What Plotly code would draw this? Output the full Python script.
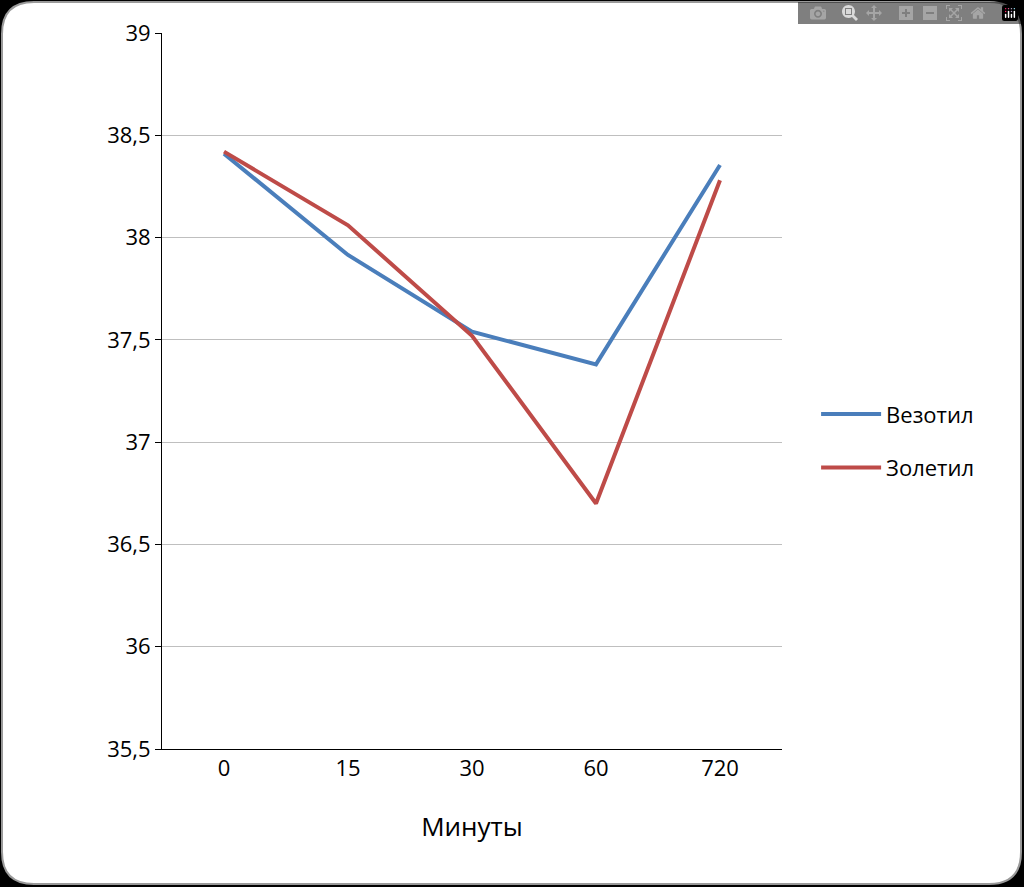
import plotly.graph_objects as go

minutes = ["0", "15", "30", "60", "720"]
vezotil = [38.41, 37.915, 37.54, 37.38, 38.355]
zoletil = [38.42, 38.06, 37.52, 36.70, 38.28]

W, H = 1024, 887
L, R, T, B = 162, 782, 33, 749

def px(x):
    return (x - L) / (R - L)

def py(y):
    return (B - y) / (B - T)

# rounded white card on black background
x0, x1, y0, y1, r = 2, 1021, 2, 884, 32
path = (f"M {px(x0+r)},{py(y0)} L {px(x1-r)},{py(y0)} Q {px(x1)},{py(y0)} {px(x1)},{py(y0+r)} "
        f"L {px(x1)},{py(y1-r)} Q {px(x1)},{py(y1)} {px(x1-r)},{py(y1)} "
        f"L {px(x0+r)},{py(y1)} Q {px(x0)},{py(y1)} {px(x0)},{py(y1-r)} "
        f"L {px(x0)},{py(y0+r)} Q {px(x0)},{py(y0)} {px(x0+r)},{py(y0)} Z")

fig = go.Figure()
fig.add_trace(go.Scatter(x=minutes, y=vezotil, mode="lines", name="Везотил", legendgroup="a",
                         line=dict(color="#4a7ebb", width=4)))
fig.add_trace(go.Scatter(x=minutes, y=zoletil, mode="lines", name="Золетил", legendgroup="b",
                         line=dict(color="#be4b48", width=4)))

fig.add_shape(type="path", path=path, xref="paper", yref="paper", layer="below",
              fillcolor="white", line=dict(color="#9a9a9a", width=2))

fig.update_layout(
    width=W, height=H,
    margin=dict(l=L, r=W - R, t=T, b=H - B),
    paper_bgcolor="black", plot_bgcolor="rgba(0,0,0,0)",
    separators=", ",
    font=dict(family="Open Sans", size=22, color="black"),
    legend=dict(x=1.055, y=0.43, yanchor="middle", font=dict(size=22),
                tracegroupgap=22, itemwidth=60, bgcolor="rgba(0,0,0,0)"),
    xaxis=dict(title=dict(text="Минуты", standoff=36), showline=True, linecolor="black",
               linewidth=1, showgrid=False, ticks="", range=[-0.5, 4.5]),
    yaxis=dict(range=[35.5, 39], dtick=0.5, showline=True, linecolor="black", linewidth=1,
               gridcolor="#bfbfbf", ticks="outside", ticklen=6, tickcolor="black", zeroline=False),
)
fig.write_html("out.html", post_script="document.body.style.margin='0';document.body.style.background='black';")
